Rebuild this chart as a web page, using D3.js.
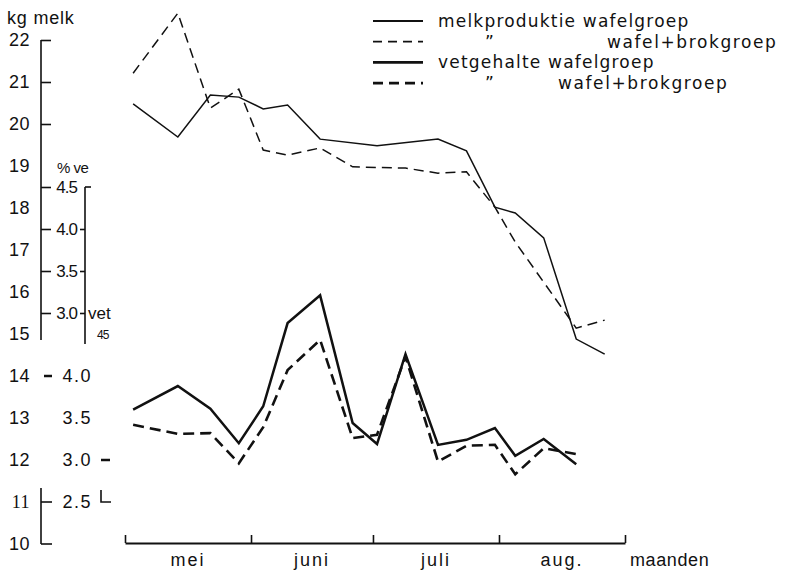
<!DOCTYPE html>
<html>
<head>
<meta charset="utf-8">
<script src="https://cdn.jsdelivr.net/npm/d3@7"></script>
<style>
  body { margin: 0; background: #fff; }
  text { fill: #111; }
</style>
</head>
<body>
<svg id="chart" width="789" height="570"></svg>
<script>
// meetdagen (dagen na 1 mei) en waarden
const dagen = [2, 13, 21, 28, 34, 40, 48, 56, 62, 69, 77, 84, 91, 96, 103, 111, 118];
const melkWafel = [20.48, 19.69, 20.69, 20.64, 20.36, 20.45, 19.64, null, 19.48, null, 19.64, 19.36, 18.02, 17.88, 17.29, 14.88, 14.52];
const melkBrok = [21.21, 22.64, 20.38, 20.83, 19.38, 19.26, 19.43, 18.98, null, 18.95, 18.83, 18.86, 18.02, 17.19, null, 15.14, 15.33];
const vetWafel = [3.60, 3.88, 3.61, 3.20, 3.64, 4.63, 4.96, 3.44, 3.19, 4.26, 3.18, 3.24, 3.38, 3.05, 3.25, 2.95, null];
const vetBrok = [3.42, 3.31, 3.32, 2.96, 3.39, 4.07, 4.43, 3.26, 3.30, 4.23, 2.98, 3.17, 3.18, 2.83, 3.14, 3.07, null];

const maanden = ["mei", "juni", "juli", "aug."];
const maandGrens = [0, 31, 61, 92, 123];
const melkLabels = [22, 21, 20, 19, 18, 17, 16, 15, 14, 13, 12, 11, 10];
const melkTicks = [22, 21, 20, 18.5, 17.5, 16.5, 15.5];
const vetLabelsBoven = [4.5, 4.0, 3.5, 3.0];
const vetLabelsOnder = [4.0, 3.5, 3.0, 2.5];

const legendItems = [
  { lijn: "dun", dash: null, a: "melkproduktie wafelgroep", b: "" },
  { lijn: "dun", dash: "9,6", a: "\u201d", b: "wafel+brokgroep" },
  { lijn: "dik", dash: null, a: "vetgehalte wafelgroep", b: "" },
  { lijn: "dik", dash: "10,6", a: "\u201d", b: "wafel+brokgroep" }
];

const svg = d3.select("#chart");
svg.append("rect").attr("width", "100%").attr("height", "100%").style("fill", "#fff");

const x = d3.scaleLinear().domain([0, 123]).range([125, 625]);
const yMelk = d3.scaleLinear().domain([10, 22]).range([544, 40]);
const yVet = d3.scaleLinear().domain([2.5, 4.0]).range([yMelk(11), yMelk(14)]);
const yVetBoven = d3.scaleLinear().domain([3.0, 4.5]).range([yMelk(15.5), yMelk(18.5)]);

const ink = "#111";
const numFont = "Liberation Sans, Arial, sans-serif";

// ---- linker as (kg melk) ----
const asG = svg.append("g").attr("stroke", ink).attr("fill", "none").attr("stroke-width", 1.6);

const melkTickAxis = d3.axisRight(yMelk).tickValues(melkTicks).tickFormat("").tickSizeInner(10).tickSizeOuter(0);
asG.append("g").attr("transform", "translate(41,0)").call(melkTickAxis)
  .call(g => g.select(".domain").remove())
  .selectAll("line").attr("stroke", ink).attr("stroke-width", 1.6);
asG.append("line").attr("x1", 41).attr("x2", 41).attr("y1", yMelk(22)).attr("y2", 340);
// onderste stuk
asG.append("line").attr("x1", 41).attr("x2", 41).attr("y1", 488).attr("y2", yMelk(10));
asG.append("line").attr("x1", 41).attr("x2", 52).attr("y1", yMelk(10)).attr("y2", yMelk(10));
asG.append("line").attr("x1", 41).attr("x2", 52).attr("y1", yMelk(11)).attr("y2", yMelk(11));
asG.append("line").attr("x1", 44).attr("x2", 52).attr("y1", yMelk(14)).attr("y2", yMelk(14)).attr("stroke-width", 2.5);

svg.append("g").selectAll("text").data(melkLabels).join("text")
  .attr("x", 30).attr("y", d => yMelk(d)).attr("dy", "0.36em")
  .attr("text-anchor", "end")
  .style("font-family", d => d === 11 ? "Liberation Serif, serif" : numFont)
  .style("font-size", "18px").style("letter-spacing", "0.5px")
  .text(d => d);

svg.append("text").attr("x", 7).attr("y", 24)
  .style("font-family", numFont).style("font-size", "18px").style("letter-spacing", "0.8px").text("kg melk");

// ---- % vet as boven ----
const vetAxisBoven = d3.axisLeft(yVetBoven).tickValues([4.0, 3.5, 3.0]).tickFormat("").tickSizeInner(5).tickSizeOuter(0);
asG.append("g").attr("transform", "translate(85,0)").call(vetAxisBoven)
  .call(g => g.select(".domain").remove())
  .selectAll("line").attr("stroke", ink).attr("stroke-width", 1.6);
asG.append("line").attr("x1", 85).attr("x2", 85).attr("y1", yVetBoven(4.5)).attr("y2", 344);
asG.append("line").attr("x1", 85).attr("x2", 91).attr("y1", yVetBoven(4.5)).attr("y2", yVetBoven(4.5));

svg.append("g").selectAll("text").data(vetLabelsBoven).join("text")
  .attr("x", 77).attr("y", d => yVetBoven(d)).attr("dy", "0.36em")
  .attr("text-anchor", "end")
  .style("font-family", numFont).style("font-size", "17px").style("letter-spacing", "-1px")
  .text(d => d.toFixed(1));

svg.append("text").attr("x", 57).attr("y", 173)
  .style("font-family", numFont).style("font-size", "15px").style("letter-spacing", "-0.5px").text("% ve");
svg.append("text").attr("x", 88).attr("y", 319)
  .style("font-family", numFont).style("font-size", "17px").text("vet");
svg.append("text").attr("x", 97).attr("y", 339)
  .style("font-family", numFont).style("font-size", "12px").style("letter-spacing", "-1px").text("45");

// ---- % vet onder ----
svg.append("g").selectAll("text").data(vetLabelsOnder).join("text")
  .attr("x", 92).attr("y", d => yVet(d)).attr("dy", "0.36em")
  .attr("text-anchor", "end")
  .style("font-family", numFont).style("font-size", "18px").style("letter-spacing", "1.5px")
  .text(d => d.toFixed(1));
asG.append("line").attr("x1", 101).attr("x2", 110).attr("y1", yVet(3.0)).attr("y2", yVet(3.0)).attr("stroke-width", 2.5);
asG.append("path").attr("d", d3.line()([[101, 490], [101, yVet(2.5)], [111, yVet(2.5)]]));

// ---- x as ----
const xAxis = d3.axisTop(x).tickValues(maandGrens).tickFormat("").tickSizeInner(8).tickSizeOuter(0);
svg.append("g").attr("transform", `translate(0,${yMelk(10) - 1})`).call(xAxis)
  .call(g => g.select(".domain").attr("stroke", ink).attr("stroke-width", 2))
  .selectAll("line").attr("stroke", ink).attr("stroke-width", 1.6);

svg.append("g").selectAll("text").data(maanden).join("text")
  .attr("x", (d, i) => (x(maandGrens[i]) + x(maandGrens[i + 1])) / 2)
  .attr("y", 566).attr("text-anchor", "middle")
  .style("font-family", numFont).style("font-size", "18px").style("letter-spacing", "2px")
  .text(d => d);
svg.append("text").attr("x", 630).attr("y", 566)
  .style("font-family", numFont).style("font-size", "18px").style("letter-spacing", "0.6px").text("maanden");

// ---- lijnen ----
function punten(waarden) {
  return dagen.map((d, i) => [d, waarden[i]]).filter(p => p[1] != null);
}
const lijnMelk = d3.line().x(d => x(d[0])).y(d => yMelk(d[1]));
const lijnVet = d3.line().x(d => x(d[0])).y(d => yVet(d[1]));

const reeksen = [
  { data: punten(melkWafel), lijn: lijnMelk, w: 1.5, dash: null },
  { data: punten(melkBrok), lijn: lijnMelk, w: 1.5, dash: "10,6" },
  { data: punten(vetWafel), lijn: lijnVet, w: 2.5, dash: null },
  { data: punten(vetBrok), lijn: lijnVet, w: 2.6, dash: "11,6" }
];

svg.append("g").selectAll("path").data(reeksen).join("path")
  .attr("d", d => d.lijn(d.data))
  .attr("fill", "none")
  .attr("stroke", ink)
  .attr("stroke-width", d => d.w)
  .attr("stroke-dasharray", d => d.dash)
  .attr("stroke-linejoin", "miter");

// ---- legenda ----
const leg = svg.append("g").attr("transform", "translate(373,21)");
const rij = leg.selectAll("g").data(legendItems).join("g")
  .attr("transform", (d, i) => `translate(0,${i * 20.7})`);
rij.append("line").attr("x1", 0).attr("x2", 50).attr("y1", 0).attr("y2", 0)
  .attr("stroke", ink)
  .attr("stroke-width", d => d.lijn === "dik" ? 2.6 : 1.8)
  .attr("stroke-dasharray", d => d.dash);
rij.append("text").attr("x", (d, i) => d.a === "\u201d" ? 112 : 65).attr("y", 6)
  .style("font-family", "DejaVu Sans, sans-serif").style("font-size", "17px").style("letter-spacing", "1.2px")
  .text(d => d.a);
rij.append("text").attr("x", (d, i) => i === 1 ? 234 : 185).attr("y", 6)
  .style("font-family", "DejaVu Sans, sans-serif").style("font-size", "17px").style("letter-spacing", "1.6px")
  .text(d => d.b);
</script>
</body>
</html>
